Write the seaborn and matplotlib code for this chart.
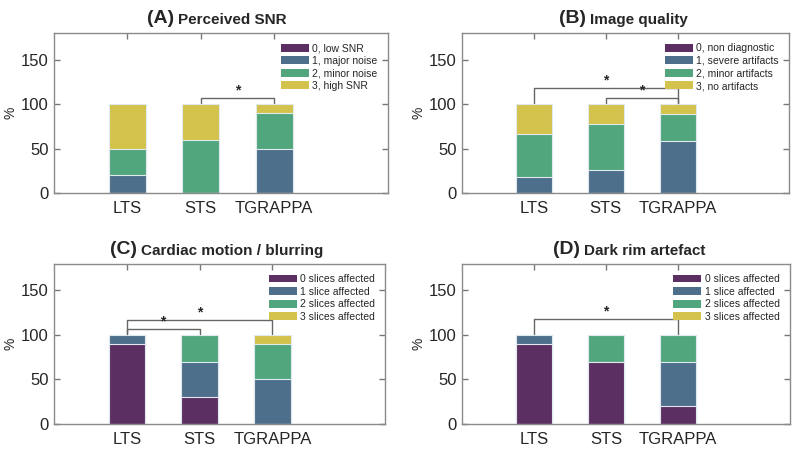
import numpy as np
import matplotlib
matplotlib.use('Agg')
import matplotlib.pyplot as plt
import seaborn as sns
from matplotlib.patches import Patch

sns.set_style('white')
plt.rcParams['font.family'] = ['Liberation Sans', 'DejaVu Sans']

# Data (percent per score level, rows = level 0..3, columns = category)
CATEGORIES = ['LTS', 'STS', 'TGRAPPA']
LEVEL_COLORS = ['#5c2f63', '#4e6f8b', '#52a67d', '#d3c24c']

snr_pct      = [[0, 0, 0], [20, 0, 50], [30, 60, 40], [50, 40, 10]]
quality_pct  = [[0, 0, 0], [18, 26, 59], [48, 52, 30], [34, 22, 11]]
motion_pct   = [[90, 30, 0], [10, 40, 50], [0, 30, 40], [0, 0, 10]]
darkrim_pct  = [[90, 70, 20], [10, 0, 50], [0, 30, 30], [0, 0, 0]]

snr_labels     = ['0, low SNR', '1, major noise', '2, minor noise', '3, high SNR']
quality_labels = ['0, non diagnostic', '1, severe artifacts', '2, minor artifacts', '3, no artifacts']
slice_labels   = ['0 slices affected', '1 slice affected', '2 slices affected', '3 slices affected']

# significance brackets: (category i, category j, bracket height)
snr_sig     = [(1, 2, 107)]
quality_sig = [(0, 2, 118), (1, 2, 107)]
motion_sig  = [(0, 1, 107), (0, 2, 117)]
darkrim_sig = [(0, 2, 118)]

PANELS = [
    ('(A)', 'Perceived SNR',            snr_pct,     snr_labels,     snr_sig,     [0.0675, 0.571, 0.4175, 0.356], 0.36),
    ('(B)', 'Image quality',            quality_pct, quality_labels, quality_sig, [0.5775, 0.571, 0.409, 0.356], 0.38),
    ('(C)', 'Cardiac motion / blurring', motion_pct, slice_labels,   motion_sig,  [0.0675, 0.058, 0.414, 0.356], 0.25),
    ('(D)', 'Dark rim artefact',        darkrim_pct, slice_labels,   darkrim_sig, [0.5775, 0.058, 0.41, 0.356], 0.36),
]


def draw_panel(fig, tag, title, pct, labels, sig, rect, split):
    ax = fig.add_axes(rect)
    cum = np.cumsum(np.array(pct, dtype=float), axis=0)

    # stacked bars: draw cumulative totals from top layer down
    for lvl in range(len(pct) - 1, -1, -1):
        sns.barplot(x=CATEGORIES, y=cum[lvl], color=LEVEL_COLORS[lvl], saturation=1,
                    width=0.5, edgecolor='#dfe9ee', linewidth=0.8, ax=ax)

    ax.set_xlim(-1, 3.55)
    ax.set_ylim(0, 180)
    ax.set_yticks([0, 50, 100, 150])
    ax.set_ylabel('%', fontsize=10, labelpad=2)
    ax.tick_params(axis='both', labelsize=12, direction='in', length=4, width=1,
                   color='#777777', bottom=True, left=True, top=True, right=True)
    ax.tick_params(axis='x', pad=6)
    ax.tick_params(axis='y', pad=4)
    for s in ax.spines.values():
        s.set_color('#8a8a8a')
        s.set_linewidth(1)

    for i, j, h in sig:
        ax.plot([i, i, j, j], [101, h, h, 101], color='#666666', lw=1)
        ax.text((i + j) / 2, h + 0.5, '*', ha='center', va='bottom',
                fontsize=10, fontweight='bold')

    handles = [Patch(facecolor=c, edgecolor='none') for c in LEVEL_COLORS]
    ax.legend(handles, labels, loc='upper right', frameon=False, fontsize=7.5,
              handlelength=2.7, handleheight=0.8, handletextpad=0.3,
              labelspacing=0.25, borderaxespad=0.6)

    ax.text(split, 1.035, tag, transform=ax.transAxes, ha='right', va='bottom',
            fontsize=14, fontweight='bold')
    ax.text(split + 0.012, 1.035, title, transform=ax.transAxes, ha='left', va='bottom',
            fontsize=11, fontweight='bold')


fig = plt.figure(figsize=(8, 4.5), dpi=100)
for p in PANELS:
    draw_panel(fig, *p)

fig.savefig('out.png', dpi=100)
plt.close(fig)
